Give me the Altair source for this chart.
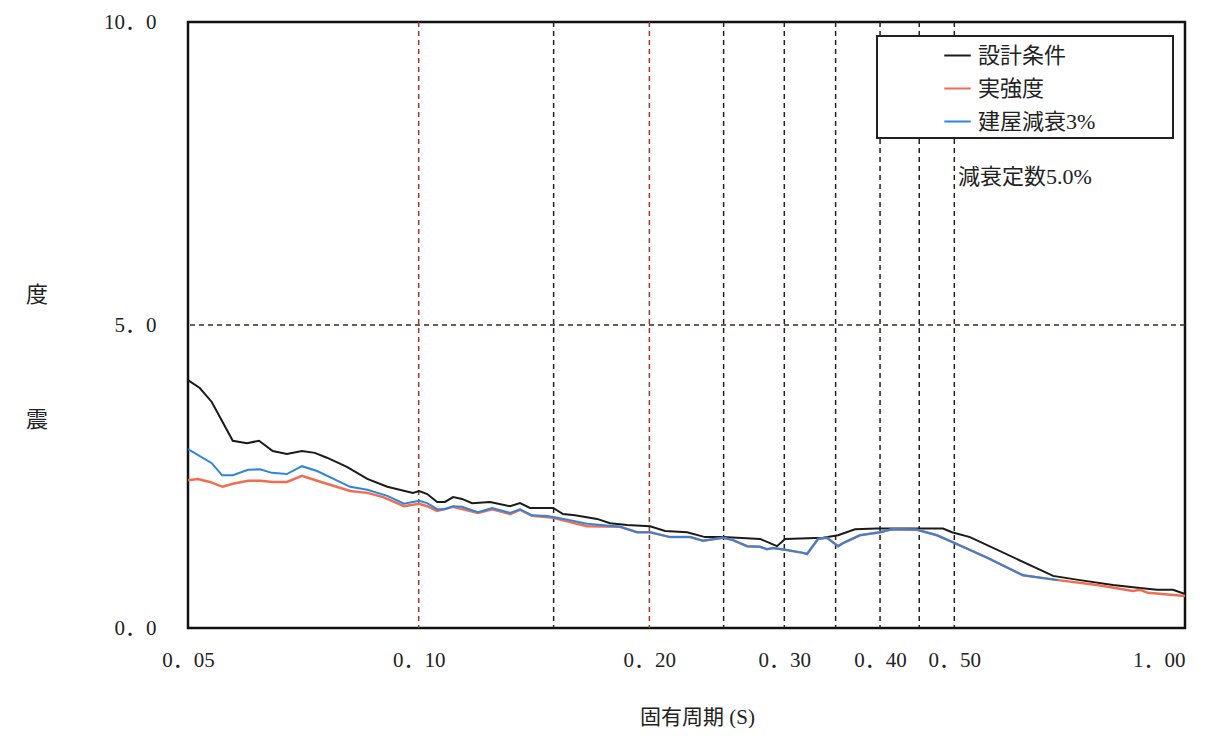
import altair as alt
import pandas as pd

# ---- data (period T [s], response value) ----
BLACK_T = [0.050, 0.0518, 0.0537, 0.0572, 0.0597, 0.0619, 0.0645, 0.0673, 0.0704, 0.0732,
           0.0759, 0.0806, 0.0857, 0.0910, 0.0983, 0.1001, 0.1026, 0.1057, 0.1082, 0.1109,
           0.1139, 0.1174, 0.1239, 0.1316, 0.1356, 0.1397, 0.1498, 0.1543, 0.1599, 0.1709,
           0.1777, 0.1870, 0.2004, 0.2097, 0.2240, 0.2364, 0.2496, 0.2789, 0.2935, 0.3007,
           0.3370, 0.3526, 0.3710, 0.3963, 0.4833, 0.4965, 0.5241, 0.6727, 0.7293, 0.8054,
           0.8735, 0.9193, 0.9645, 1.000]
BLACK_S = [4.09, 3.96, 3.73, 3.09, 3.05, 3.09, 2.92, 2.87, 2.92, 2.89,
           2.81, 2.66, 2.46, 2.33, 2.23, 2.26, 2.21, 2.08, 2.08, 2.16,
           2.13, 2.06, 2.08, 2.01, 2.06, 1.98, 1.98, 1.88, 1.86, 1.80,
           1.73, 1.70, 1.68, 1.60, 1.58, 1.50, 1.50, 1.47, 1.35, 1.47,
           1.49, 1.53, 1.63, 1.64, 1.64, 1.58, 1.50, 0.86, 0.79, 0.71,
           0.66, 0.63, 0.63, 0.56]

RED_T = [0.050, 0.0515, 0.0534, 0.0555, 0.0572, 0.0599, 0.0621, 0.0645, 0.0673, 0.0704,
         0.0737, 0.0814, 0.0857, 0.0899, 0.0957, 0.1001, 0.1026, 0.1057, 0.1109, 0.1195,
         0.1247, 0.1316, 0.1356, 0.1406, 0.1498, 0.1658, 0.1831, 0.1927, 0.2004, 0.2129,
         0.2260, 0.2350, 0.2496, 0.2572, 0.2682, 0.2789, 0.2848, 0.2900, 0.3007, 0.3173,
         0.3212, 0.3320, 0.3411, 0.3526, 0.3579, 0.3766, 0.3999, 0.4146, 0.4469, 0.4746,
         0.4965, 0.5516, 0.6145, 0.6828, 0.7679, 0.8553, 0.8735, 0.8947, 1.000]
RED_S = [2.44, 2.46, 2.41, 2.33, 2.38, 2.43, 2.43, 2.41, 2.41, 2.51,
         2.43, 2.26, 2.23, 2.16, 2.01, 2.05, 2.01, 1.93, 2.00, 1.90,
         1.96, 1.88, 1.95, 1.85, 1.82, 1.68, 1.67, 1.58, 1.58, 1.50,
         1.50, 1.44, 1.49, 1.45, 1.35, 1.34, 1.30, 1.32, 1.29, 1.24,
         1.22, 1.47, 1.49, 1.35, 1.40, 1.53, 1.58, 1.63, 1.62, 1.53,
         1.42, 1.16, 0.87, 0.79, 0.71, 0.61, 0.63, 0.58, 0.53]

BLUE_T = [0.050, 0.0537, 0.0554, 0.0572, 0.0599, 0.0621, 0.0643, 0.0673, 0.0704, 0.0737,
          0.0814, 0.0857, 0.0910, 0.0957, 0.1001, 0.1026, 0.1057, 0.1082, 0.1109, 0.1139,
          0.1195, 0.1247, 0.1316, 0.1356, 0.1406, 0.1471, 0.1498, 0.1576, 0.1658, 0.1831,
          0.1927, 0.2004, 0.2129, 0.2260, 0.2350, 0.2496, 0.2572, 0.2682, 0.2789, 0.2848,
          0.2900, 0.3007, 0.3173, 0.3212, 0.3320, 0.3411, 0.3526, 0.3579, 0.3766, 0.3999,
          0.4146, 0.4469, 0.4746, 0.4965, 0.5516, 0.6145, 0.6828]
BLUE_S = [2.95, 2.72, 2.52, 2.52, 2.61, 2.62, 2.56, 2.54, 2.67, 2.59,
          2.33, 2.28, 2.18, 2.05, 2.10, 2.06, 1.96, 1.96, 2.01, 2.00,
          1.91, 1.98, 1.90, 1.96, 1.86, 1.85, 1.83, 1.78, 1.72, 1.67,
          1.58, 1.58, 1.50, 1.50, 1.44, 1.49, 1.45, 1.35, 1.34, 1.30,
          1.32, 1.29, 1.24, 1.22, 1.47, 1.49, 1.35, 1.40, 1.53, 1.58,
          1.63, 1.62, 1.53, 1.42, 1.16, 0.87, 0.79]

SERIES = ["設計条件", "実強度", "建屋減衰3%"]
COLORS = ["#1a1a1a", "#f26d50", "#2f86d8"]

X_TICKS = [0.05, 0.10, 0.20, 0.30, 0.40, 0.50, 1.00]
X_TICK_LABELS = ["0．05", "0．10", "0．20", "0．30", "0．40", "0．50", "1．00"]
Y_TICKS = [0, 5, 10]
Y_TICK_LABELS = ["0．0", "5．0", "10．0"]

GRID_X = [0.10, 0.15, 0.20, 0.25, 0.30, 0.35, 0.40, 0.45, 0.50]
GRID_X_KIND = ["r", "k", "r", "k", "k", "k", "k", "k", "k"]
GRID_Y = [5.0]

X_TITLE = "固有周期 (S)"
Y_TITLE_CHARS = ["度", "震"]
ANNOTATION = "減衰定数5.0%"

FONT = "Liberation Serif, Noto Sans CJK JP"

# ---- tables ----
lines = pd.concat([
    pd.DataFrame({"T": BLACK_T, "S": BLACK_S, "series": SERIES[0]}),
    pd.DataFrame({"T": RED_T, "S": RED_S, "series": SERIES[1]}),
    pd.DataFrame({"T": BLUE_T, "S": BLUE_S, "series": SERIES[2]}),
], ignore_index=True)
grid_x = pd.DataFrame({"T": GRID_X, "kind": GRID_X_KIND})
grid_y = pd.DataFrame({"S": GRID_Y})


def label_expr(ticks, labels):
    expr = "''"
    for t, l in reversed(list(zip(ticks, labels))):
        expr = f"abs(datum.value - {t}) < 1e-6 ? '{l}' : ({expr})"
    return expr


last_x = f"abs(datum.value - {X_TICKS[-1]}) < 1e-6"

xscale = alt.Scale(type="log", domain=[0.05, 1.0], nice=False)
yscale = alt.Scale(domain=[0, 10], nice=False)

x_axis = alt.Axis(values=X_TICKS, labelExpr=label_expr(X_TICKS, X_TICK_LABELS),
                  grid=False, ticks=False, domain=False, labelFont=FONT,
                  labelFontSize=21, labelColor="#222", labelPadding=21,
                  labelFlush=False, labelOverlap=False,
                  labelAlign={"condition": {"test": last_x, "value": "right"}, "value": "center"},
                  title=X_TITLE, titleFont=FONT, titleFontSize=21,
                  titleFontWeight="normal", titleColor="#222",
                  titleX=509, titleY=89, titleBaseline="middle", titleAlign="center")
y_axis = alt.Axis(values=Y_TICKS, labelExpr=label_expr(Y_TICKS, Y_TICK_LABELS),
                  grid=False, ticks=False, domain=False, labelFont=FONT,
                  labelFontSize=21, labelColor="#222", labelPadding=32,
                  labelFlush=False, title=None)

color = alt.Color("series:N", scale=alt.Scale(domain=SERIES, range=COLORS),
                  legend=alt.Legend(orient="none", legendX=755, legendY=19, title=None,
                                    symbolType="stroke", symbolStrokeWidth=2,
                                    symbolSize=700, labelFont=FONT, labelFontSize=22,
                                    labelColor="#222", labelOffset=6, rowPadding=7,
                                    padding=0))

gx_r = alt.Chart(grid_x).transform_filter("datum.kind == 'r'").mark_rule(
    color="#9c3b2b", strokeDash=[5, 4], strokeWidth=1.5).encode(
    x=alt.X("T:Q", scale=xscale, axis=x_axis))
gx_k = alt.Chart(grid_x).transform_filter("datum.kind == 'k'").mark_rule(
    color="#222", strokeDash=[5, 4], strokeWidth=1.5).encode(
    x=alt.X("T:Q", scale=xscale, axis=x_axis))
gy = alt.Chart(grid_y).mark_rule(color="#3a2a22", strokeDash=[5, 4], strokeWidth=1.5).encode(
    y=alt.Y("S:Q", scale=yscale, axis=y_axis))

widths = [2, 2.5, 2]
line_layers = []
for i, s in enumerate(SERIES):
    line_layers.append(
        alt.Chart(lines).transform_filter(alt.datum.series == s).mark_line(
            strokeWidth=widths[i]).encode(
            x=alt.X("T:Q", scale=xscale, axis=x_axis),
            y=alt.Y("S:Q", scale=yscale, axis=y_axis),
            color=color,
        )
    )

box = alt.Chart(pd.DataFrame({"a": [0]})).mark_rect(
    fill="white", stroke="#222", strokeWidth=2).encode(
    x=alt.value(689), x2=alt.value(985), y=alt.value(14), y2=alt.value(116))

annot = alt.Chart(pd.DataFrame({"t": [ANNOTATION]})).mark_text(
    font=FONT, fontSize=22, align="left", baseline="middle", color="#222").encode(
    x=alt.value(770), y=alt.value(155), text="t:N")

ytitle_layers = []
for ch, ypos in zip(Y_TITLE_CHARS, [273, 398]):
    ytitle_layers.append(
        alt.Chart(pd.DataFrame({"c": [ch]})).mark_text(
            font=FONT, fontSize=22, align="center", baseline="middle", color="#222").encode(
            x=alt.value(-151), y=alt.value(ypos), text="c:N")
    )

chart = alt.layer(gx_r, gx_k, gy, *line_layers, box, annot, *ytitle_layers).properties(
    width=997, height=606,
    padding={"left": 180, "top": 14, "right": 12, "bottom": 100},
    autosize=alt.AutoSizeParams(type="none"),
    background="white",
).configure_view(stroke="#111", strokeWidth=2.5)

chart.save("out.html", embed_options={"renderer": "svg", "actions": False})
